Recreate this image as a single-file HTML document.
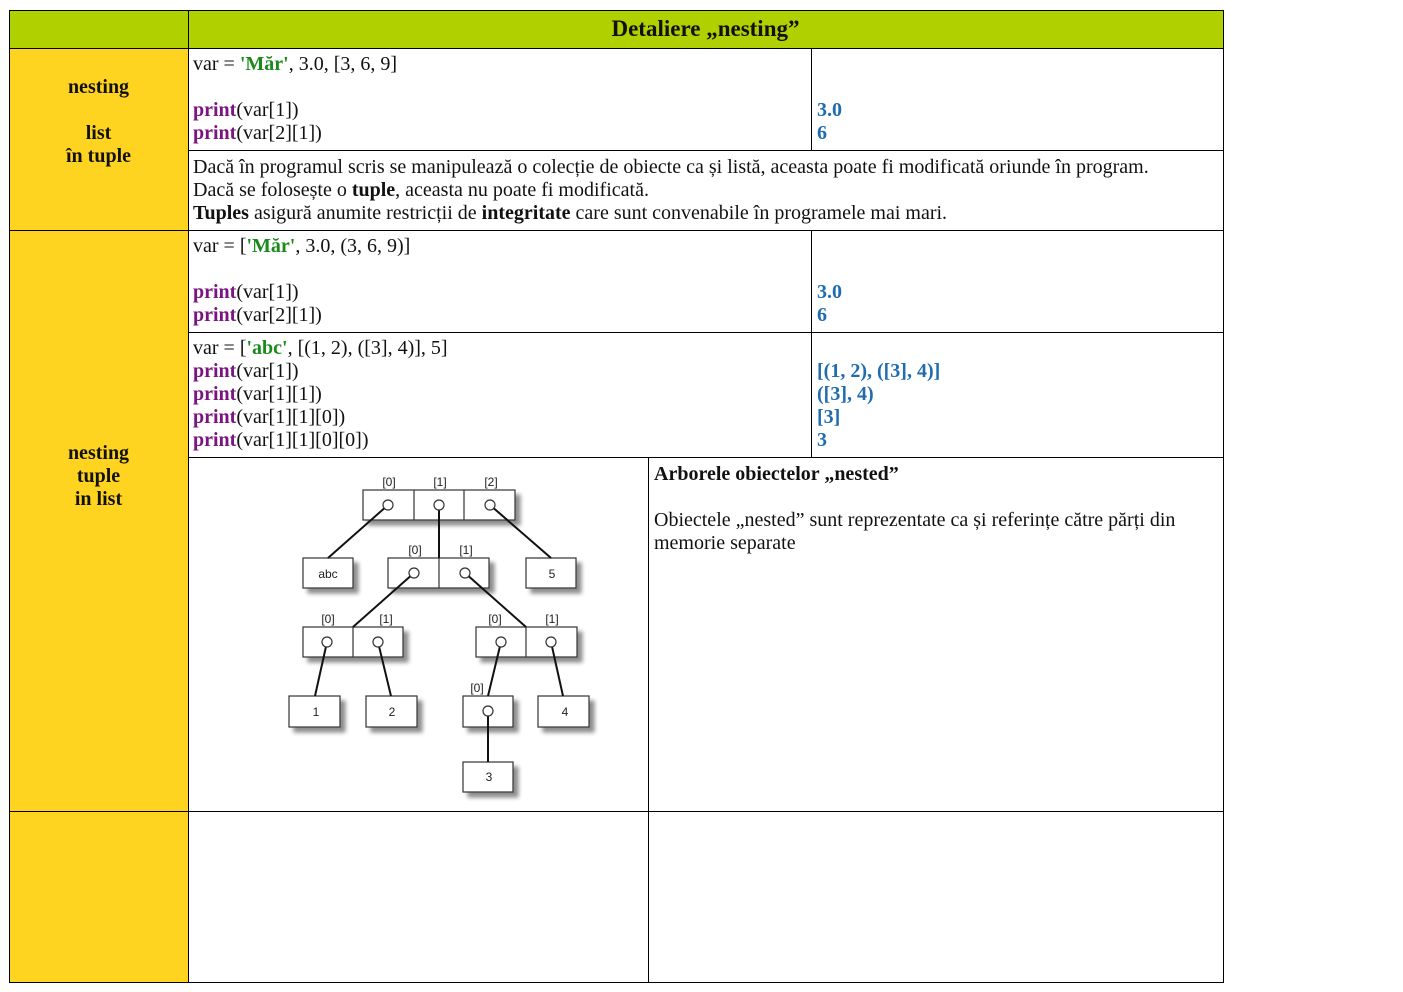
<!DOCTYPE html>
<html><head><meta charset="utf-8"><style>
body{margin:0;width:1403px;height:992px;background:#fff;position:relative;font-family:"Liberation Serif",serif;font-size:20px;color:#111;overflow:hidden}
.a{position:absolute}
.c{position:absolute;line-height:23px;white-space:nowrap}
.p{color:#7a1580;font-weight:bold}
.g{color:#1b8a1b;font-weight:bold}
.o{color:#1f6db0;font-weight:bold}
.h{position:absolute;background:#000}
.lbl{font-weight:bold;text-align:center;width:179px;left:9px;line-height:23px}
</style></head><body>
<div class="a" style="left:9px;top:10px;width:179px;height:38px;background:#b0d000"></div>
<div class="a" style="left:188px;top:10px;width:1035px;height:38px;background:#b0d000"></div>
<div class="a" style="left:9px;top:48px;width:179px;height:934px;background:#ffd420"></div>
<div class="a" style="left:188px;top:16px;width:1035px;text-align:center;font-weight:bold;font-size:23px">Detaliere „nesting”</div>
<div class="h" style="left:9px;top:10px;width:1215px;height:1px"></div>
<div class="h" style="left:9px;top:48px;width:1215px;height:1px"></div>
<div class="h" style="left:9px;top:230px;width:1215px;height:1px"></div>
<div class="h" style="left:9px;top:811px;width:1215px;height:1px"></div>
<div class="h" style="left:9px;top:982px;width:1215px;height:1px"></div>
<div class="h" style="left:188px;top:150px;width:1036px;height:1px"></div>
<div class="h" style="left:188px;top:332px;width:1036px;height:1px"></div>
<div class="h" style="left:188px;top:457px;width:1036px;height:1px"></div>
<div class="h" style="left:9px;top:10px;width:1px;height:973px"></div>
<div class="h" style="left:188px;top:10px;width:1px;height:973px"></div>
<div class="h" style="left:1223px;top:10px;width:1px;height:973px"></div>
<div class="h" style="left:811px;top:48px;width:1px;height:102px"></div>
<div class="h" style="left:811px;top:230px;width:1px;height:227px"></div>
<div class="h" style="left:648px;top:457px;width:1px;height:526px"></div>
<div class="a lbl" style="top:76px">nesting<br><br>list<br>în tuple</div>
<div class="a lbl" style="top:442px">nesting<br>tuple<br>in list</div>
<div class="c" style="left:193px;top:53px">var = <span class="g">'Măr'</span>, 3.0, [3, 6, 9]<br><br><span class="p">print</span>(var[1])<br><span class="p">print</span>(var[2][1])</div>
<div class="c o" style="left:817px;top:99px">3.0<br>6</div>
<div class="c" style="left:193px;top:156px">Dacă în programul scris se manipulează o colecție de obiecte ca și listă, aceasta poate fi modificată oriunde în program.<br>Dacă se folosește o <b>tuple</b>, aceasta nu poate fi modificată.<br><b>Tuples</b> asigură anumite restricții de <b>integritate</b> care sunt convenabile în programele mai mari.</div>
<div class="c" style="left:193px;top:235px">var = [<span class="g">'Măr'</span>, 3.0, (3, 6, 9)]<br><br><span class="p">print</span>(var[1])<br><span class="p">print</span>(var[2][1])</div>
<div class="c o" style="left:817px;top:281px">3.0<br>6</div>
<div class="c" style="left:193px;top:337px">var = [<span class="g">'abc'</span>, [(1, 2), ([3], 4)], 5]<br><span class="p">print</span>(var[1])<br><span class="p">print</span>(var[1][1])<br><span class="p">print</span>(var[1][1][0])<br><span class="p">print</span>(var[1][1][0][0])</div>
<div class="c o" style="left:817px;top:360px">[(1, 2), ([3], 4)]<br>([3], 4)<br>[3]<br>3</div>
<div class="c" style="left:654px;top:463px"><b>Arborele obiectelor „nested”</b><br><br>Obiectele „nested” sunt reprezentate ca și referințe către părți din<br>memorie separate</div>
<svg class="a" style="left:0;top:0" width="1403" height="992" font-family="Liberation Sans Narrow, Liberation Sans, sans-serif" font-size="12">
<defs><filter id="s" x="-20%" y="-20%" width="160%" height="180%"><feGaussianBlur in="SourceAlpha" stdDeviation="2"/><feOffset dx="5" dy="5"/><feComponentTransfer><feFuncA type="linear" slope="0.45"/></feComponentTransfer><feMerge><feMergeNode/><feMergeNode in="SourceGraphic"/></feMerge></filter></defs>
<g fill="#fff" stroke="#333" stroke-width="1.2" filter="url(#s)">
<rect x="363" y="490" width="152" height="30"/>
<rect x="303" y="558" width="50" height="30"/>
<rect x="526" y="558" width="50" height="30"/>
<rect x="388" y="558" width="101" height="30"/>
<rect x="303" y="627" width="100" height="30"/>
<rect x="476" y="627" width="101" height="30"/>
<rect x="289" y="696" width="51" height="31"/>
<rect x="366" y="696" width="51" height="31"/>
<rect x="463" y="696" width="50" height="31"/>
<rect x="538" y="696" width="51" height="31"/>
<rect x="463" y="762" width="50" height="30"/>
</g>
<g stroke="#333" stroke-width="1.2">
<line x1="414" y1="490" x2="414" y2="520"/><line x1="464" y1="490" x2="464" y2="520"/>
<line x1="439" y1="558" x2="439" y2="588"/><line x1="353" y1="627" x2="353" y2="657"/><line x1="526" y1="627" x2="526" y2="657"/>
</g>
<g stroke="#111" stroke-width="2">
<line x1="388" y1="505" x2="328" y2="558"/><line x1="439" y1="505" x2="439" y2="558"/><line x1="490" y1="505" x2="551" y2="558"/>
<line x1="414" y1="573" x2="353" y2="627"/><line x1="465" y1="573" x2="526" y2="627"/>
<line x1="327" y1="642" x2="315" y2="696"/><line x1="378" y1="642" x2="391" y2="696"/>
<line x1="501" y1="642" x2="488" y2="696"/><line x1="551" y1="642" x2="563" y2="696"/>
<line x1="488" y1="711" x2="488" y2="762"/>
</g>
<g fill="#fff" stroke="#333" stroke-width="1.2">
<ellipse cx="388" cy="505" rx="5" ry="5"/><ellipse cx="439" cy="505" rx="5" ry="5"/><ellipse cx="490" cy="505" rx="5" ry="5"/>
<ellipse cx="414" cy="573" rx="5" ry="5"/><ellipse cx="465" cy="573" rx="5" ry="5"/>
<ellipse cx="327" cy="642" rx="5" ry="5"/><ellipse cx="378" cy="642" rx="5" ry="5"/>
<ellipse cx="501" cy="642" rx="5" ry="5"/><ellipse cx="551" cy="642" rx="5" ry="5"/>
<ellipse cx="488" cy="711" rx="5" ry="5"/>
</g>
<g fill="#222" text-anchor="middle">
<text x="389" y="486">[0]</text><text x="440" y="486">[1]</text><text x="491" y="486">[2]</text>
<text x="415" y="554">[0]</text><text x="466" y="554">[1]</text>
<text x="328" y="623">[0]</text><text x="386" y="623">[1]</text>
<text x="495" y="623">[0]</text><text x="552" y="623">[1]</text>
<text x="477" y="692">[0]</text>
<text x="328" y="578">abc</text><text x="552" y="578">5</text>
<text x="316" y="716">1</text><text x="392" y="716">2</text><text x="565" y="716">4</text><text x="489" y="781">3</text>
</g>
</svg>
</body></html>
